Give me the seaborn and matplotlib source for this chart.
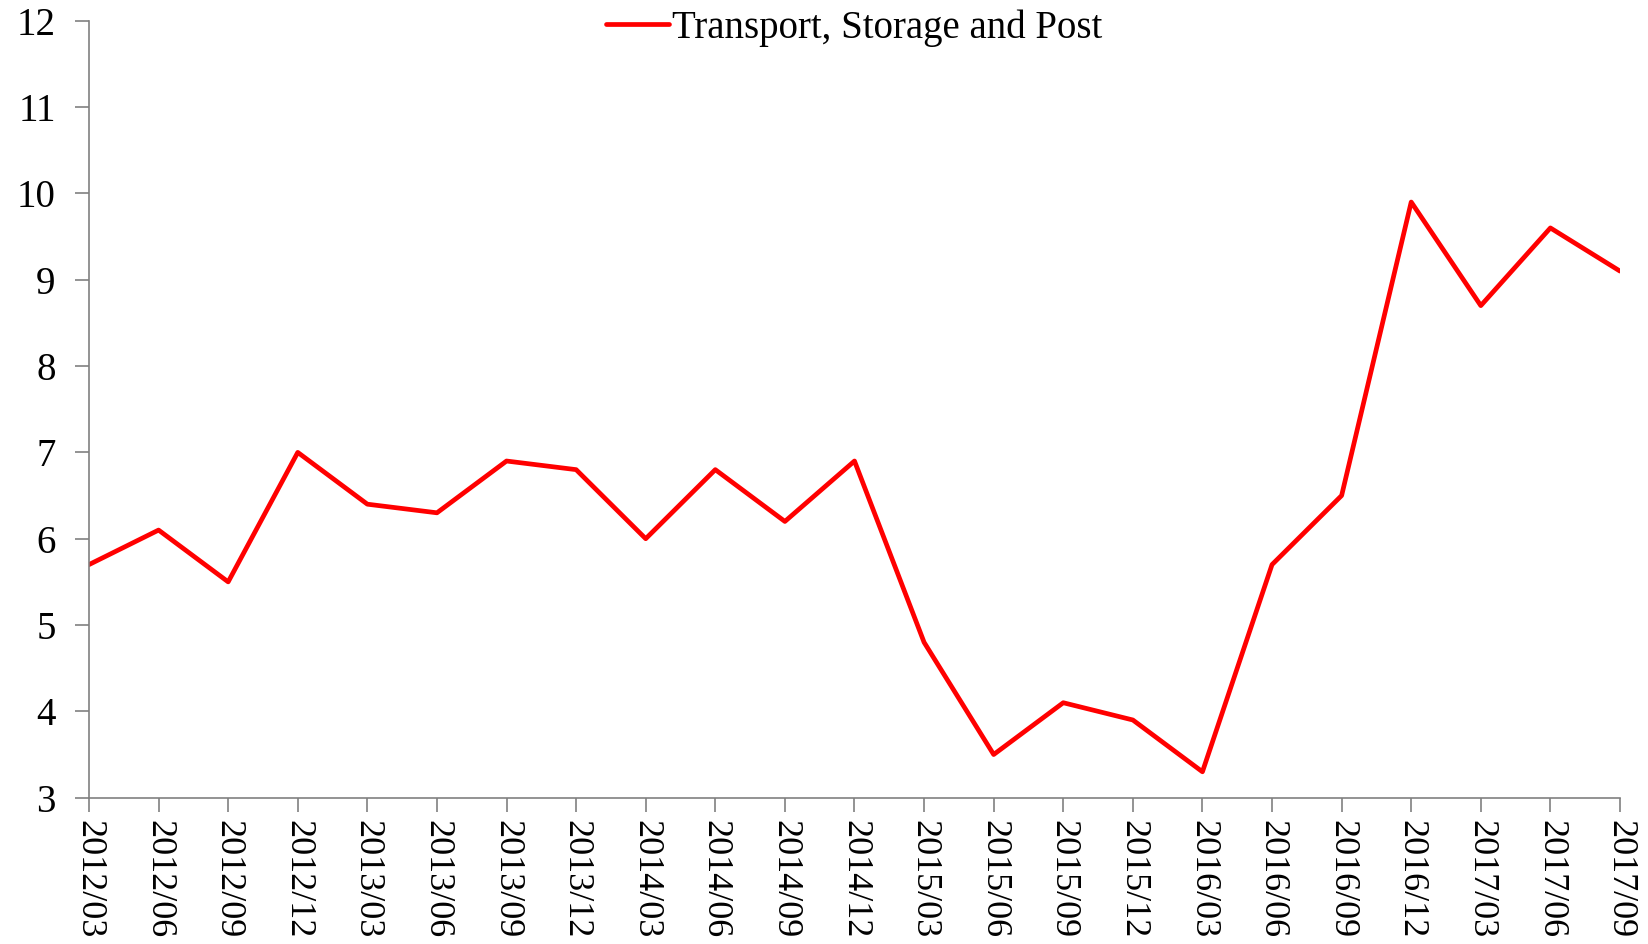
import seaborn as sns
import matplotlib.pyplot as plt
import pandas as pd

# quarterly values
quarters = ['2012/03', '2012/06', '2012/09', '2012/12',
            '2013/03', '2013/06', '2013/09', '2013/12',
            '2014/03', '2014/06', '2014/09', '2014/12',
            '2015/03', '2015/06', '2015/09', '2015/12',
            '2016/03', '2016/06', '2016/09', '2016/12',
            '2017/03', '2017/06', '2017/09']
transport = [5.7, 6.1, 5.5, 7.0,
             6.4, 6.3, 6.9, 6.8,
             6.0, 6.8, 6.2, 6.9,
             4.8, 3.5, 4.1, 3.9,
             3.3, 5.7, 6.5, 9.9,
             8.7, 9.6, 9.1]
series_name = 'Transport, Storage and Post'

df = pd.DataFrame({'quarter': quarters, 'value': transport})
df['pos'] = range(len(df))

sns.set_style('white')
plt.rcParams['font.family'] = ['Liberation Serif', 'DejaVu Serif']
plt.rcParams['text.color'] = 'black'

fig, ax = plt.subplots(figsize=(16.48, 9.44), dpi=100)
fig.subplots_adjust(left=0.054, right=0.983, top=0.978, bottom=0.155)

sns.lineplot(data=df, x='pos', y='value', ax=ax, color='#ff0000',
             linewidth=3.4, label=series_name)

ax.set_xlim(0, len(quarters) - 1)
ax.set_ylim(3, 12)
ax.set_yticks(range(3, 13))
ax.set_xticks(df['pos'])
ax.set_xticklabels(quarters, rotation=270, va='top')
ax.set_xlabel('')
ax.set_ylabel('')

ax.tick_params(axis='both', labelcolor='black', direction='out',
               length=10, width=1.2, color='#808080',
               bottom=True, left=True)
ax.tick_params(axis='x', labelsize=26, pad=6)
ax.tick_params(axis='y', labelsize=28, pad=14)

for side in ['top', 'right']:
    ax.spines[side].set_visible(False)
for side in ['left', 'bottom']:
    ax.spines[side].set_color('#808080')
    ax.spines[side].set_linewidth(1.2)

leg = ax.legend(loc='upper center', bbox_to_anchor=(0.5, 1.06), frameon=False,
                fontsize=28, handlelength=1.6, handletextpad=0.1)
for t in leg.get_texts():
    t.set_color('black')

plt.savefig('out.png', dpi=100)
